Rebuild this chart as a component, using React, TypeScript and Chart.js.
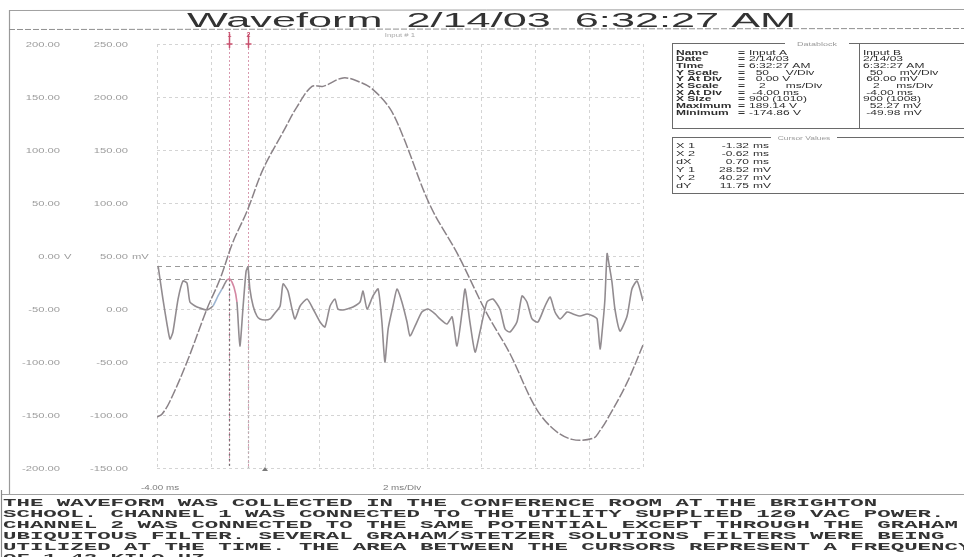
import { useEffect, useRef } from "react";
import { Chart, registerables } from "chart.js";

Chart.register(...registerables);

// Channel 1: utility line voltage (V), time in ms
const ch1Times = [-4.0, -3.81, -3.52, -2.89, -2.15, -1.67, -1.19, -0.67, -0.07, 0.67, 1.19, 1.74, 2.15, 2.89, 3.52, 4.0, 4.63, 5.11, 6.11, 7.15, 8.19, 9.07, 10.0, 10.67, 11.37, 12.15, 12.4, 12.7, 13.4, 14.0];
const ch1Volts = [-152, -149, -137, -100, -50, -22, 13, 42, 82, 117, 141, 160, 160, 168, 164, 157, 139, 113, 48, 1, -53, -92, -142, -163, -173, -172, -165, -153, -120, -84];

// Channel 2: filtered line noise (mV), time in ms
const ch2Times = [-3.96, -3.78, -3.63, -3.52, -3.41, -3.22, -3.04, -2.89, -2.78, -2.59, -2.41, -2.15, -1.93, -1.74, -1.59, -1.41, -1.3, -1.15, -1.04, -0.93, -0.81, -0.7, -0.63, -0.56, -0.44, -0.3, -0.19, 0.0, 0.19, 0.37, 0.56, 0.67, 0.85, 1.0, 1.11, 1.3, 1.56, 1.78, 2.04, 2.22, 2.41, 2.59, 2.7, 2.89, 3.04, 3.26, 3.52, 3.63, 3.78, 4.0, 4.19, 4.33, 4.44, 4.56, 4.74, 4.89, 5.07, 5.26, 5.37, 5.56, 5.81, 6.04, 6.3, 6.48, 6.74, 6.93, 7.11, 7.3, 7.41, 7.59, 7.78, 7.96, 8.22, 8.44, 8.7, 8.89, 9.07, 9.33, 9.52, 9.7, 9.89, 10.11, 10.37, 10.56, 10.74, 10.93, 11.19, 11.41, 11.67, 11.93, 12.15, 12.3, 12.41, 12.52, 12.59, 12.67, 12.74, 12.85, 12.96, 13.15, 13.41, 13.59, 13.78, 14.0];
const ch2MilliVolts = [40.6, 9.4, -14.2, -28.3, -21.7, 9.4, 26.4, 24.5, 6.6, 2.8, 0.9, -0.9, 2.8, 12.3, 18.9, 27.4, 28.3, 20.8, 6.6, -34.9, 2.8, 35.8, 39.6, 18.9, 2.8, -6.6, -9.4, -10.4, -9.4, -3.8, 2.8, 23.6, 17.0, 0.0, -9.4, 2.8, 9.4, 0.0, -12.3, -17.0, 2.8, 9.4, 0.0, -0.9, 0.0, 1.9, 6.6, 17.0, 0.0, 12.3, 18.9, -12.3, -49.98, -18.9, 2.8, 18.9, 6.6, -12.3, -25.5, -16.0, -2.8, 0.0, -4.7, -9.4, -14.2, -7.5, -34.9, -2.8, 18.9, -12.3, -40.6, -21.7, 6.6, 9.4, 0.0, -18.9, -21.7, -12.3, 12.3, 6.6, -9.4, -12.3, 2.8, 11.3, -2.8, -9.4, -2.8, -4.7, -6.6, -4.7, -6.6, -9.4, -37.7, -12.3, 9.4, 52.27, 42.5, 25.5, 0.0, -20.8, -6.6, 18.9, 26.4, 7.5];

// Left-hand division labels for both channels
const divValues = [200, 150, 100, 50, 0, -50, -100, -150, -200];
const ch1DivLabels = ["200.00", "150.00", "100.00", "50.00", "0.00", "-50.00", "-100.00", "-150.00", "-200.00"];
const ch2DivLabels = ["250.00", "200.00", "150.00", "100.00", "50.00", "0.00", "-50.00", "-100.00", "-150.00"];

// Cursor readings
const cursorTimes = [-1.32, -0.62];
const cursorLevels = [28.52, 40.27];

const titleText = "Waveform  2/14/03  6:32:27 AM";
const channelTag = "Input # 1";
const xStartLabel = "-4.00 ms";
const xScaleLabel = "2 ms/Div";

const blockLabels = ["Name", "Date", "Time", "Y Scale", "Y At Div", "X Scale", "X At Div", "X Size", "Maximum", "Minimum"];
const inputAValues = ["Input A", "2/14/03", "6:32:27 AM", "  50     V/Div", "  0.00 V", "   2      ms/Div", " -4.00 ms", "900 (1010)", "189.14 V", "-174.86 V"];
const inputBValues = ["Input B", "2/14/03", "6:32:27 AM", "  50     mV/Div", " 60.00 mV", "   2     ms/Div", " -4.00 ms", "900 (1008)", "  52.27 mV", " -49.98 mV"];
const cursorRowLabels = ["X 1", "X 2", "dX", "Y 1", "Y 2", "dY"];
const cursorRowNumbers = ["-1.32", "-0.62", "0.70", "28.52", "40.27", "11.75"];
const cursorRowUnits = ["ms", "ms", "ms", "mV", "mV", "mV"];

const noteLines = [
  "THE WAVEFORM WAS COLLECTED IN THE CONFERENCE ROOM AT THE BRIGHTON",
  "SCHOOL. CHANNEL 1 WAS CONNECTED TO THE UTILITY SUPPLIED 120 VAC POWER.",
  "CHANNEL 2 WAS CONNECTED TO THE SAME POTENTIAL EXCEPT THROUGH THE GRAHAM",
  "UBIQUITOUS FILTER. SEVERAL GRAHAM/STETZER SOLUTIONS FILTERS WERE BEING",
  "UTILIZED AT THE TIME. THE AREA BETWEEN THE CURSORS REPRESENT A FREQUENCY",
  "OF 1.42 KILO HZ.",
];

type Align = "left" | "right" | "center";

function wideText(ctx: CanvasRenderingContext2D, text: string, x: number, y: number, font: string, scaleX: number, align: Align, color: string) {
  ctx.save();
  ctx.font = font;
  ctx.fillStyle = color;
  ctx.textBaseline = "alphabetic";
  ctx.textAlign = "left";
  const w = ctx.measureText(text).width * scaleX;
  const left = align === "left" ? x : align === "right" ? x - w : x - w / 2;
  ctx.translate(left, y);
  ctx.scale(scaleX, 1);
  ctx.fillText(text, 0, 0);
  ctx.restore();
}

function spanText(ctx: CanvasRenderingContext2D, text: string, left: number, right: number, y: number, font: string, color: string) {
  ctx.save();
  ctx.font = font;
  const scaleX = (right - left) / ctx.measureText(text).width;
  ctx.restore();
  wideText(ctx, text, left, y, font, scaleX, "left", color);
}

function line(ctx: CanvasRenderingContext2D, x1: number, y1: number, x2: number, y2: number, color: string, width = 1, dash: number[] = []) {
  ctx.save();
  ctx.strokeStyle = color;
  ctx.lineWidth = width;
  ctx.setLineDash(dash);
  ctx.beginPath();
  ctx.moveTo(x1, y1);
  ctx.lineTo(x2, y2);
  ctx.stroke();
  ctx.restore();
}

const cursorPlugin = {
  id: "cursorLines",
  beforeDatasetsDraw(chart: any) {
    const { ctx, chartArea, scales } = chart;
    const xs = scales.x;
    const y2 = scales.y2;
    const pink = "#d99ab0";
    // horizontal level cursors
    cursorLevels.forEach((lv) => {
      const py = Math.round(y2.getPixelForValue(lv)) + 0.5;
      line(ctx, chartArea.left, py, chartArea.right, py, "#9a9a9a", 1.2, [5, 4]);
    });
    // vertical time cursors
    cursorTimes.forEach((t, i) => {
      const px = Math.round(xs.getPixelForValue(t)) + 0.5;
      line(ctx, px, chartArea.top - 4, px, chartArea.bottom, pink, 1, [2, 2]);
      const lowTop = y2.getPixelForValue(cursorLevels[i]);
      line(ctx, px, lowTop, px, chartArea.bottom, i === 0 ? "#6e6e6e" : "#b4b4b4", 1.3, [2, 3]);
      // cursor flags at the top
      line(ctx, px, chartArea.top - 10, px, chartArea.top + 4, "#c8506e", 1.5);
      line(ctx, px - 3, chartArea.top, px + 3, chartArea.top, "#c8506e", 1.5);
      wideText(ctx, String(i + 1), px, chartArea.top - 7, "bold 7px 'Liberation Sans'", 1, "center", "#c8506e");
    });
    // trigger marker
    const tx = xs.getPixelForValue(0);
    ctx.save();
    ctx.fillStyle = "#7a7a7a";
    ctx.beginPath();
    ctx.moveTo(tx - 3, chartArea.bottom + 3);
    ctx.lineTo(tx + 3, chartArea.bottom + 3);
    ctx.lineTo(tx, chartArea.bottom - 1);
    ctx.closePath();
    ctx.fill();
    ctx.restore();
  },
};

const textPlugin = {
  id: "scopeText",
  afterDraw(chart: any) {
    const { ctx, chartArea, scales } = chart;
    const ys = scales.y;
    const xs = scales.x;

    // outer frame
    line(ctx, 9, 10.5, 964, 9.5, "#a0a0a0", 1);
    line(ctx, 9.5, 10, 9.5, 494, "#9a9a9a", 1.2);
    line(ctx, 9, 29.5, 964, 28.5, "#8f8f8f", 1, [6, 2]);
    line(ctx, 2, 494.5, 964, 494.5, "#a0a0a0", 1);
    line(ctx, 1.5, 490, 1.5, 557, "#8a8a8a", 1.2);

    // title
    spanText(ctx, titleText, 187, 796, 27, "20px 'Liberation Sans'", "#333333");
    wideText(ctx, channelTag, 400, 37, "6px 'Liberation Sans'", 1.3, "center", "#a8a8a8");

    // division labels
    const labelFont = "8px 'Liberation Sans'";
    divValues.forEach((v, i) => {
      const py = ys.getPixelForValue(v) + 3;
      wideText(ctx, ch1DivLabels[i], 60, py, labelFont, 1.4, "right", "#9c9c9c");
      wideText(ctx, ch2DivLabels[i], 128, py, labelFont, 1.4, "right", "#9c9c9c");
      if (v === 0) {
        wideText(ctx, "V", 64, py, labelFont, 1.4, "left", "#9c9c9c");
        wideText(ctx, "mV", 132, py, labelFont, 1.4, "left", "#9c9c9c");
      }
    });

    // horizontal axis notes
    wideText(ctx, xStartLabel, xs.getPixelForValue(-4) + 3, chartArea.bottom + 22, "7px 'Liberation Sans'", 1.4, "center", "#7a7a7a");
    wideText(ctx, xScaleLabel, xs.getPixelForValue(5) + 2, chartArea.bottom + 22, "7px 'Liberation Sans'", 1.4, "center", "#7a7a7a");

    // datablock
    const bx = 672;
    ctx.save();
    ctx.strokeStyle = "#6a6a6a";
    ctx.lineWidth = 1;
    ctx.strokeRect(bx + 0.5, 43.5, 300, 85);
    line(ctx, 859.5, 44, 859.5, 128, "#6a6a6a", 1);
    ctx.strokeRect(bx + 0.5, 137.5, 300, 56);
    ctx.fillStyle = "#ffffff";
    ctx.fillRect(785, 40, 64, 7);
    ctx.fillRect(771, 134, 66, 7);
    ctx.restore();
    wideText(ctx, "Datablock", 817, 46, "6px 'Liberation Sans'", 1.5, "center", "#9a9a9a");
    wideText(ctx, "Cursor Values", 804, 140, "6px 'Liberation Sans'", 1.4, "center", "#9a9a9a");

    const boxFont = "bold 7.5px 'Liberation Sans'";
    const valFont = "7.5px 'Liberation Sans'";
    const dark = "#2e2e2e";
    blockLabels.forEach((lab, i) => {
      const yy = 54.5 + i * 6.7;
      wideText(ctx, lab, 676, yy, boxFont, 1.6, "left", dark);
      wideText(ctx, "=", 738, yy, boxFont, 1.6, "left", dark);
      wideText(ctx, inputAValues[i], 749, yy, valFont, 1.6, "left", dark);
      wideText(ctx, inputBValues[i], 863, yy, valFont, 1.6, "left", dark);
    });
    cursorRowLabels.forEach((lab, i) => {
      const yy = 148 + i * 8;
      wideText(ctx, lab, 676, yy, valFont, 1.7, "left", dark);
      wideText(ctx, cursorRowNumbers[i], 749, yy, valFont, 1.6, "right", dark);
      wideText(ctx, cursorRowUnits[i], 753, yy, valFont, 1.6, "left", dark);
    });

    // notes beneath the trace
    const pitch = 13.45;
    const noteFont = "bold 11px 'Liberation Mono'";
    ctx.save();
    ctx.font = noteFont;
    const adv = ctx.measureText("M").width;
    ctx.restore();
    noteLines.forEach((txt, i) => {
      wideText(ctx, txt, 3, 506 + i * 11, noteFont, pitch / adv, "left", "#333333");
    });
  },
};

export default function App() {
  const canvasRef = useRef<HTMLCanvasElement | null>(null);

  useEffect(() => {
    const canvas = canvasRef.current;
    if (!canvas) return;
    const ch1 = ch1Times.map((t, i) => ({ x: t, y: ch1Volts[i] }));
    const ch2 = ch2Times.map((t, i) => ({ x: t, y: ch2MilliVolts[i] }));

    const gridStyle = { color: "#d4d4d4", lineWidth: 1, drawTicks: false };

    const chart = new Chart(canvas, {
      type: "line",
      data: {
        datasets: [
          {
            label: "Input A",
            data: ch1,
            yAxisID: "y",
            borderColor: "#8a8287",
            borderWidth: 1.5,
            borderDash: [10, 2],
            pointRadius: 0,
            tension: 0.35,
            fill: false,
          },
          {
            label: "Input B",
            data: ch2,
            yAxisID: "y2",
            borderColor: "#928c90",
            borderWidth: 1.6,
            pointRadius: 0,
            tension: 0.2,
            fill: false,
            segment: {
              borderColor: (c: any) => {
                const a = c.p0.parsed.x;
                if (a >= -1.45 && a < -1.1) return "#d487a2";
                if (a >= -1.95 && a < -1.6) return "#9db5d2";
                return undefined;
              },
            },
          },
        ],
      },
      options: {
        responsive: false,
        animation: false,
        devicePixelRatio: 1,
        layout: { padding: { left: 157, right: 321, top: 44, bottom: 89 } },
        plugins: { legend: { display: false }, tooltip: { enabled: false } },
        scales: {
          x: {
            type: "linear",
            min: -4,
            max: 14,
            ticks: { display: false, stepSize: 2 },
            grid: gridStyle,
            border: { display: false, dash: [3, 3] },
          },
          y: {
            type: "linear",
            min: -200,
            max: 200,
            ticks: { display: false, stepSize: 50 },
            grid: gridStyle,
            border: { display: false, dash: [3, 3] },
          },
          y2: {
            type: "linear",
            display: false,
            min: -150,
            max: 250,
          },
        },
      },
      plugins: [cursorPlugin, textPlugin],
    });

    return () => chart.destroy();
  }, []);

  return (
    <div style={{ position: "absolute", left: 0, top: 0, width: 964, height: 557, background: "#ffffff" }}>
      <canvas ref={canvasRef} width={964} height={557} style={{ display: "block", width: 964, height: 557 }} />
    </div>
  );
}
